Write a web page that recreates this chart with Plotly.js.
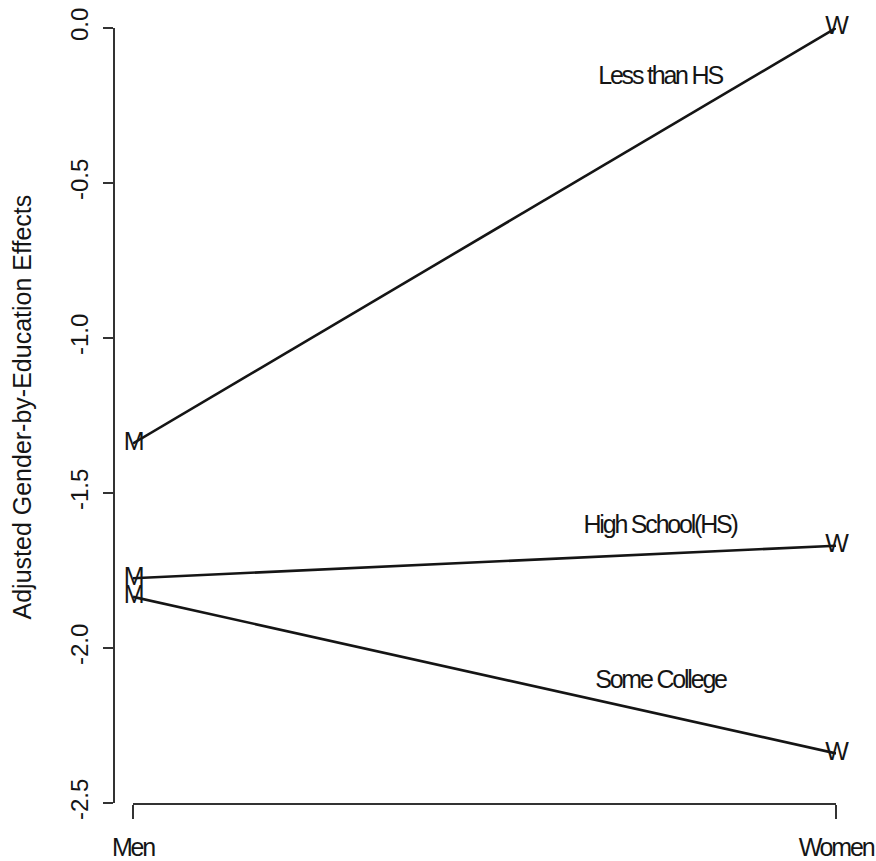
<!DOCTYPE html>
<html>
<head>
<meta charset="utf-8">
<script src="https://cdn.plot.ly/plotly-3.0.1.min.js"></script>
<style>
html,body{margin:0;padding:0;background:#fff;}
#chart{width:876px;height:861px;}
#chart .annotation-text.cond, #chart .textpoint text, #chart .xtick text { letter-spacing: -2.2px; }
</style>
</head>
<body>
<div id="chart"></div>
<script>
// Data
const genderPos = [0, 1];
const genderLabels = ["Men", "Women"];
const pointSymbols = ["M", "W"];
const lessThanHS = [-1.34, 0.0];
const highSchool = [-1.775, -1.67];
const someCollege = [-1.835, -2.34];
const groupNames = ["Less than HS", "High School(HS)", "Some College"];
const labelX = [0.75, 0.75, 0.75];
const labelY = [-0.15, -1.6, -2.1];
const yTickVals = [-2.5, -2.0, -1.5, -1.0, -0.5, 0.0];
const yTickText = ["-2.5", "-2.0", "-1.5", "-1.0", "-0.5", "0.0"];

const narrow = "Liberation Sans Narrow, Arial Narrow, Liberation Sans, Arial, sans-serif";
const regular = "Liberation Sans, Arial, Helvetica, sans-serif";
const ink = "#151515";

function series(vals) {
  return {
    x: genderPos, y: vals, type: "scatter", mode: "lines+text",
    text: pointSymbols, textposition: "middle center",
    textfont: {family: narrow, size: 25, color: ink},
    line: {color: ink, width: 2.6},
    cliponaxis: false, hoverinfo: "skip", showlegend: false
  };
}

const traces = [series(lessThanHS), series(highSchool), series(someCollege)];

const annotations = groupNames.map((t, i) => ({
  text: t, x: labelX[i], y: labelY[i], xref: "x", yref: "y",
  showarrow: false, xanchor: "center", yanchor: "middle",
  font: {family: narrow, size: 25, color: ink}
}));
annotations.push({
  text: "Adjusted Gender-by-Education Effects",
  xref: "paper", yref: "paper", x: (22 - 113) / 723, y: (803 - 407.5) / 775,
  xanchor: "center", yanchor: "middle", textangle: -90, showarrow: false,
  font: {family: regular, size: 25, color: ink}
});

const layout = {
  width: 876, height: 861,
  margin: {l: 113, r: 40, t: 28, b: 58, pad: 0},
  paper_bgcolor: "#fff", plot_bgcolor: "#fff",
  showlegend: false,
  xaxis: {
    domain: [20 / 723, 1], range: [0, 1], fixedrange: true,
    showgrid: false, zeroline: false,
    showline: true, linecolor: "#333", linewidth: 1.5,
    ticks: "outside", ticklen: 14, tickwidth: 1.5, tickcolor: "#333",
    tickvals: genderPos, ticktext: genderLabels,
    tickfont: {family: narrow, size: 25, color: ink},
    ticklabelstandoff: 7, ticklabeloverflow: "allow"
  },
  yaxis: {
    range: [-2.5, 0], anchor: "free", position: 0, fixedrange: true,
    showgrid: false, zeroline: false,
    showline: true, linecolor: "#333", linewidth: 1.5,
    ticks: "outside", ticklen: 10, tickwidth: 1.5, tickcolor: "#333",
    tickvals: yTickVals, ticktext: yTickText, tickangle: -90,
    tickfont: {family: regular, size: 24, color: ink},
    ticklabelstandoff: 5
  },
  annotations: annotations
};

Plotly.newPlot("chart", traces, layout, {displayModeBar: false, staticPlot: true}).then(function () {
  // mark the group labels so the condensed spacing applies to them only
  document.querySelectorAll("#chart .annotation-text").forEach(function (el) {
    if (groupNames.indexOf(el.textContent) >= 0) el.classList.add("cond");
  });
});
</script>
</body>
</html>
